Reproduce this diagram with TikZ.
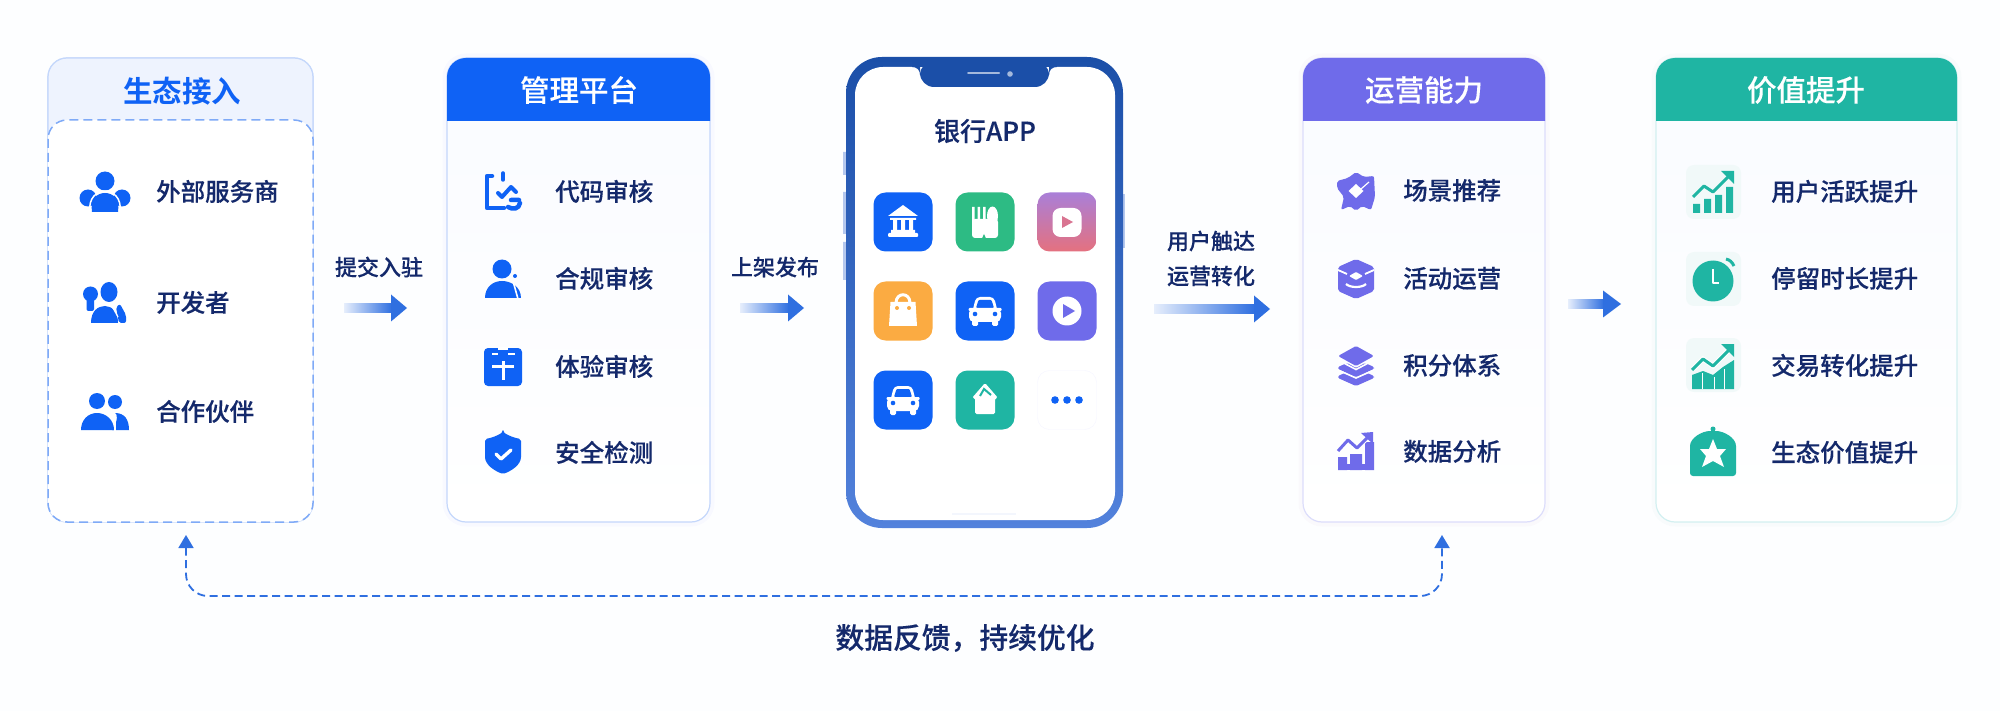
\documentclass[tikz,border=0pt]{standalone}
\usepackage{fontspec}
\setmainfont{Noto Sans CJK SC Medium}[FakeBold=0.2]
\newfontfamily\cjkb{Noto Sans CJK SC Bold}
\usetikzlibrary{arrows.meta,calc}
\definecolor{bgc}{HTML}{FDFEFF}
\definecolor{ink}{HTML}{14296B}
\definecolor{bluec}{HTML}{0F62F5}
\definecolor{arrowc}{HTML}{2F6FE0}
\definecolor{purc}{HTML}{6F6BEA}
\definecolor{tealc}{HTML}{1FB5A3}
\definecolor{greenc}{HTML}{2DBB84}
\definecolor{orangec}{HTML}{FBAB42}
\definecolor{ecohead}{HTML}{EEF3FE}
\definecolor{ecoline}{HTML}{C4D7FB}
\definecolor{dashc}{HTML}{7FAAF7}
\definecolor{purline}{HTML}{DCDDFB}
\definecolor{tealline}{HTML}{D3F0F1}
\definecolor{tilec}{HTML}{F1F9F9}
\definecolor{phonetop}{HTML}{1B4FA8}
\definecolor{phonemid}{HTML}{2F62C2}
\definecolor{phonebot}{HTML}{5382DC}
\definecolor{btnc}{HTML}{B5C8EE}
\definecolor{vidtop}{HTML}{A97FD8}
\definecolor{vidbot}{HTML}{E5717F}
\definecolor{cardtop}{HTML}{F9FBFF}
\definecolor{arrowstart}{HTML}{E6EEFC}
\definecolor{homebar}{HTML}{F3F6FD}
\tikzset{
  cardbox/.style={rounded corners=19pt,line width=1.2pt,inner sep=0pt,top color=cardtop,bottom color=white},
  itemtext/.style={anchor=west,text=ink,font=\fontsize{24.5}{24.5}\selectfont,inner sep=0pt,yshift=.6pt,xshift=-1pt},
  headtext/.style={text=white,font=\fontsize{29.5}{29.5}\selectfont,inner sep=0pt},
  steptext/.style={text=ink,font=\fontsize{22}{22}\selectfont,inner sep=0pt},
  feedback/.style={draw=arrowc,line width=1.8pt,dash pattern=on 8pt off 4.5pt,rounded corners=22pt,{Triangle[length=13pt,width=15pt,fill=arrowc]}-{Triangle[length=13pt,width=15pt,fill=arrowc]}},
  apptile/.style={rounded corners=12pt,minimum width=59pt,minimum height=59pt,inner sep=0pt}
}
\newcommand{\cardhead}[3]{\fill[#3,rounded corners=19pt] (#1,121) [sharp corners] -- (#1,110) [rounded corners=19pt] -- (#1,58) -- (#2,58) [sharp corners] -- (#2,110) -- (#2,121) -- cycle;}
\newcommand{\gradarrow}[6]{% names, x1, xbase, x2, y
  \coordinate (#1s) at (#2,#5); \coordinate (#1e) at (#4,#5);
  \shade[left color=arrowstart,right color=arrowc] (#2,#5-4.5) rectangle (#3+1,#5+4.5);
  \fill[#6] (#3,#5-13.5) -- (#1e) -- (#3,#5+13.5) -- cycle;}
\newcommand{\iconcar}[2]{\begin{scope}[shift={(#1,#2)}]
  \fill[white,rounded corners=4pt] (-13,2) -- (-9,-14) -- (9,-14) -- (13,2) -- cycle;
  \fill[bluec,rounded corners=1pt] (-9,-3) -- (-6.5,-11) -- (6.5,-11) -- (9,-3) -- cycle;
  \fill[white,rounded corners=5pt] (-16,-3) rectangle (16,11);
  \fill[white,rounded corners=1pt] (-16.5,-3) rectangle (-11,0) (11,-3) rectangle (16.5,0);
  \fill[white,rounded corners=1.5pt] (-13,8) rectangle (-7,15);
  \fill[white,rounded corners=1.5pt] (7,8) rectangle (13,15);
  \fill[bluec] (-10,3) circle (2.3) (10,3) circle (2.3);
\end{scope}}
\begin{document}
\begin{tikzpicture}[x=1pt,y=-1pt]
\useasboundingbox (0,0) rectangle (2000,711);
\fill[bgc] (0,0) rectangle (2000,711);

% ---------- cards
\foreach \xa/\xb/\cc in {447/710/blue,1303/1545/violet,1656/1957/teal}{
  \draw[\cc,opacity=.018,line width=9pt,rounded corners=19pt] (\xa,58) rectangle (\xb,522);}
\node[cardbox,draw=ecoline,minimum width=265pt,minimum height=464pt] (eco) at (180.5,290) {};
\node[cardbox,draw=ecoline,minimum width=263pt,minimum height=464pt] (mgmt) at (578.5,290) {};
\node[cardbox,draw=purline,minimum width=242pt,minimum height=464pt] (ops) at (1424,290) {};
\node[cardbox,draw=tealline,minimum width=301pt,minimum height=464pt] (val) at (1806.5,290) {};

\fill[ecohead,rounded corners=19pt] (48,58) rectangle (313,200);
\draw[ecoline,line width=1.2pt,rounded corners=19pt] (48,140) -- (48,58) -- (313,58) -- (313,140);
\fill[white,rounded corners=19pt] (48,120) rectangle (313,522);
\draw[dashc,line width=1.5pt,dash pattern=on 9pt off 5pt,rounded corners=19pt] (48,120) rectangle (313,522);
\node[headtext,text=bluec,font=\cjkb\fontsize{29.5}{29.5}\selectfont] (ecot) at (182,91) {生态接入};

\cardhead{447}{710}{bluec}
\node[headtext] (mgmtt) at (579,90) {管理平台};
\cardhead{1303}{1545}{purc}
\node[headtext] (opst) at (1424,90) {运营能力};
\cardhead{1656}{1957}{tealc}
\node[headtext] (valt) at (1806,90) {价值提升};

% ---------- ecosystem items
\node[itemtext] (e1) at (157,192) {外部服务商};
\node[itemtext] (e2) at (157,303) {开发者};
\node[itemtext] (e3) at (157,412) {合作伙伴};
\begin{scope}[shift={(105,192)}]
  \fill[bluec] (0,-11) circle (9.5);
  \fill[bluec] (-17,6) circle (8.5) (17,6) circle (8.5);
  \fill[bluec] (-23,6) rectangle (23,10);
  \draw[white,line width=1.5pt] (-15,20) .. controls (-17,6) and (-8,-1) .. (0,-1) .. controls (8,-1) and (17,6) .. (15,20);
  \fill[bluec] (-13,20) .. controls (-15,7) and (-8,1) .. (0,1) .. controls (8,1) and (15,7) .. (13,20) -- cycle;
  \fill[white] (-24,13) -- (-14.5,18) -- (-14.5,21) -- (-24,21) -- cycle (24,13) -- (14.5,18) -- (14.5,21) -- (24,21) -- cycle;
\end{scope}
\begin{scope}[shift={(105,303)}]
  \fill[bluec] (4,-11) ellipse (8.5 and 10);
  \fill[bluec] (-14.5,-9) circle (7.5);
  \fill[bluec,rounded corners=2pt] (-18.5,-10) rectangle (-11,8);
  \fill[bluec] (-14,20) .. controls (-14,8) and (-7,3) .. (0,3) .. controls (7,3) and (13,9) .. (13,20) -- cycle;
  \fill[bluec,rounded corners=2pt] (11,4) -- (15,1) -- (21,12) -- (21,20) -- (14,20) -- cycle;
  \draw[white,line width=1.2pt] (7,3) -- (13,14);
\end{scope}
\begin{scope}[shift={(105,412)}]
  \fill[bluec] (-8,-11) circle (8);
  \fill[bluec] (10,-10) circle (7);
  \fill[bluec] (7,18) .. controls (14,8) and (12,1) .. (10,1) .. controls (20,1) and (24,8) .. (24,18) -- cycle;
  \draw[white,line width=2pt] (6,20) .. controls (6,8) and (2,1) .. (-8,1);
  \fill[bluec] (-24,18) .. controls (-24,8) and (-17,1) .. (-8,1) .. controls (1,1) and (9,8) .. (9,18) -- cycle;
  \fill[white] (9,10) rectangle (10.5,19);
\end{scope}

% ---------- management items
\node[itemtext] (m1) at (556,192) {代码审核};
\node[itemtext] (m2) at (556,279) {合规审核};
\node[itemtext] (m3) at (556,367) {体验审核};
\node[itemtext] (m4) at (556,453) {安全检测};
\begin{scope}[shift={(503,191)}]
  \draw[bluec,line width=4.5pt,line cap=round,line join=round] (-11,-15) -- (-16,-15) -- (-16,17) -- (1,17);
  \draw[bluec,line width=3.5pt,line cap=round] (0,-18) -- (0,-11);
  \draw[bluec,line width=4pt,line cap=round,line join=round] (-5,2) -- (-1,6) -- (8,-4) -- (13,1);
  \draw[bluec,line width=4.5pt,line cap=round] (8,9) -- (16,9) (5,16) .. controls (10,19) and (16,18) .. (17,12);
\end{scope}
\begin{scope}[shift={(503,279)}]
  \fill[bluec] (-1,-10) circle (9.5);
  \fill[bluec] (-18,19) .. controls (-18,8) and (-10,2) .. (-1,2) .. controls (8,2) and (18,8) .. (18,19) -- cycle;
  \draw[white,line width=1.6pt] (10,2) -- (15,20);
  \fill[bluec] (12,-3) circle (2);
\end{scope}
\begin{scope}[shift={(503,367)}]
  \fill[bluec,rounded corners=4pt] (-19,-19) rectangle (19,19);
  \fill[white] (-5,-20) rectangle (5,-17);
  \draw[white,line width=3pt] (0,-6) -- (0,13) (-11,-1) -- (11,-1);
  \draw[white,line width=2.2pt] (-11,-13) -- (-5,-13) (5,-13) -- (12,-13);
\end{scope}
\begin{scope}[shift={(503,453)}]
  \fill[bluec,rounded corners=2pt] (0,-21) .. controls (6,-17) and (12,-15) .. (18,-14) -- (18,2) .. controls (18,12) and (8,18) .. (0,21) .. controls (-8,18) and (-18,12) .. (-18,2) -- (-18,-14) .. controls (-12,-15) and (-6,-17) .. (0,-21) -- cycle;
  \draw[white,line width=3.4pt,line cap=round,line join=round] (-7,1) -- (-2,6) -- (8,-3);
\end{scope}

% ---------- phone
\fill[btnc] (843,152) rectangle (846,175) (843,192) rectangle (846,234) (843,242) rectangle (846,280);
\fill[btnc] (1123,194) rectangle (1125,248);
\node[rounded corners=36pt,top color=phonetop,middle color=phonemid,bottom color=phonebot,minimum width=277pt,minimum height=471pt,inner sep=0pt] (phone) at (984.5,292.5) {};
\fill[white,rounded corners=28pt] (855,67) rectangle (1115,520);
\fill[phonetop] (912,61) rectangle (1057,67);
\fill[phonetop,rounded corners=14pt] (920,61) rectangle (1049,87);
\fill[phonetop] (912,67) -- (920,67) -- (920,75) .. controls (920,70) and (917,67) .. (912,67) -- cycle;
\fill[phonetop] (1057,67) -- (1049,67) -- (1049,75) .. controls (1049,70) and (1052,67) .. (1057,67) -- cycle;
\draw[white!60!phonetop,line width=2pt,line cap=round] (968,73) -- (999,73);
\fill[white!60!phonetop] (1010,74) circle (2.8);
\fill[homebar] (952,513) rectangle (1016,515);
\node[text=ink,font=\fontsize{26}{26}\selectfont,inner sep=0pt] (apptitle) at (985,131) {银行APP};

\node[apptile,fill=bluec] (a1) at (903,222) {};
\node[apptile,fill=greenc] (a2) at (985,222) {};
\node[apptile,top color=vidtop,bottom color=vidbot] (a3) at (1067,222) {};
\node[apptile,fill=orangec] (a4) at (903,311) {};
\node[apptile,fill=bluec] (a5) at (985,311) {};
\node[apptile,fill=purc] (a6) at (1067,311) {};
\node[apptile,fill=bluec] (a7) at (903,400) {};
\node[apptile,fill=tealc] (a8) at (985,400) {};
\node[apptile,fill=white,draw=blue!4] (a9) at (1067,400) {};
% bank
\begin{scope}[shift={(903,222)}]
  \fill[white] (0,-17) -- (15,-6) -- (-15,-6) -- cycle;
  \fill[white] (-10,-3) rectangle (-6,9) (-2,-3) rectangle (2,9) (6,-3) rectangle (10,9);
  \fill[white] (-13,-4) rectangle (13,-2) (-12,8) rectangle (12,11);
  \fill[white,rounded corners=1pt] (-15,11) rectangle (15,15);
\end{scope}
% fork and spoon
\begin{scope}[shift={(985,222)}]
  \fill[white] (-13,-15) rectangle (-10.5,0) (-7.5,-15) rectangle (-5,0) (-2,-15) rectangle (0.5,0);
  \fill[white] (7.5,-6) ellipse (5.5 and 9.5);
  \fill[white,rounded corners=3pt] (-13,-3) rectangle (13,16);
  \fill[greenc] (-3,16.5) -- (-1,12) -- (1,16.5) -- cycle;
\end{scope}
% video
\begin{scope}[shift={(1067,222)}]
  \fill[white,rounded corners=8pt] (-14.5,-14) rectangle (14.5,15);
  \fill[vidbot!80!vidtop] (-5,-6) -- (6,0) -- (-5,6) -- cycle;
\end{scope}
% bag
\begin{scope}[shift={(903,311)}]
  \draw[white,line width=3pt] (-7,-8) .. controls (-7,-19) and (7,-19) .. (7,-8);
  \fill[white] (-12.5,-9) -- (12.5,-9) -- (14,15) -- (-14,15) -- cycle;
  \fill[orangec] (-6,-3) circle (2) (6,-3) circle (2);
\end{scope}
\iconcar{985}{311}
% play
\begin{scope}[shift={(1067,311)}]
  \fill[white] (0,0) circle (14.5);
  \fill[purc] (-4,-7) -- (8,0) -- (-4,7) -- cycle;
\end{scope}
\iconcar{903}{400}
% house
\begin{scope}[shift={(985,400)}]
  \fill[white,rounded corners=1.5pt] (0,-17) -- (13,-2) -- (10,-2) -- (10,14) -- (-10,14) -- (-10,-2) -- (-13,-2) -- cycle;
  \draw[tealc,line width=2pt] (-5,-4) -- (-1,-11) -- (6,-5);
\end{scope}
\fill[bluec] (1055,400) circle (3.8) (1067,400) circle (3.8) (1079,400) circle (3.8);

% ---------- ops items
\node[itemtext] (o1) at (1404,191) {场景推荐};
\node[itemtext] (o2) at (1404,279) {活动运营};
\node[itemtext] (o3) at (1404,366) {积分体系};
\node[itemtext] (o4) at (1404,452) {数据分析};
\begin{scope}[shift={(1356,191)}]
  \fill[purc,rounded corners=2pt] (-19,-10) -- (-8,-13) -- (0,-19) -- (8,-14) -- (18,-15) -- (19,6) -- (15,19) -- (6,15) -- (0,20) -- (-6,15) -- (-15,19) -- (-12,6) -- (-19,-3) -- cycle;
  \fill[white] (0,-7) -- (7.5,0) -- (0,7) -- (-7.5,0) -- cycle;
  \draw[white,line width=1.2pt] (2,-1) -- (5,-2) -- (13,-9);
\end{scope}
\begin{scope}[shift={(1356,279)}]
  \fill[purc,rounded corners=2pt] (0,-20) -- (18,-12) -- (18,12) -- (0,20) -- (-18,12) -- (-18,-12) -- cycle;
  \fill[white,rounded corners=1pt] (0,-7) -- (7,-3) -- (0,1) -- (-7,-3) -- cycle;
  \draw[white,line width=2.2pt] (-10,5) .. controls (-6,9) and (6,9) .. (10,5);
  \draw[white,line width=1.8pt] (-18,-9) -- (-9,-5) (18,-9) -- (9,-5);
\end{scope}
\begin{scope}[shift={(1356,366)}]
  \fill[purc,rounded corners=1.5pt] (-18,10) -- (-9,6) -- (0,11) -- (9,6) -- (18,10) -- (18,12) -- (0,20) -- (-18,12) -- cycle;
  \fill[purc,rounded corners=1.5pt] (-18,1) -- (-9,-3) -- (0,2) -- (9,-3) -- (18,1) -- (18,3) -- (0,11) -- (-18,3) -- cycle;
  \draw[white,line width=1.6pt] (-18,4) -- (0,12) -- (18,4);
  \fill[purc,rounded corners=1.5pt] (0,-20) -- (18,-10) -- (0,0) -- (-18,-10) -- cycle;
  \draw[white,line width=1.6pt] (-18,-6) -- (0,3.5) -- (18,-6);
\end{scope}
\begin{scope}[shift={(1356,452)}]
  \fill[purc] (-18,5) rectangle (-9,18) (-6,2) rectangle (6,18) (9,-10) rectangle (18,18);
  \fill[purc] (-18,12) rectangle (18,18);
  \draw[white,line width=4.5pt] (-18,0) -- (-8,-11) -- (1,-3) -- (14,-17);
  \draw[purc,line width=3pt,line join=round] (-18,-1) -- (-8,-12) -- (1,-4) -- (13,-16);
  \fill[purc] (5,-19) -- (17,-20) -- (17,-8) -- cycle;
\end{scope}

% ---------- value items
\node[itemtext] (v1) at (1772,192) {用户活跃提升};
\node[itemtext] (v2) at (1772,279) {停留时长提升};
\node[itemtext] (v3) at (1772,366) {交易转化提升};
\node[itemtext] (v4) at (1772,453) {生态价值提升};
\foreach \yy in {192,279,365}{\fill[tilec,rounded corners=8pt] (1686,\yy-27) rectangle (1741,\yy+27);}
\begin{scope}[shift={(1713,192)}]
  \fill[tealc] (-20,12) rectangle (-13,21) (-9,7) rectangle (-2,21) (2,3) rectangle (9,21) (13,-5) rectangle (20,21);
  \draw[tealc,line width=3pt,line join=round] (-20,5) -- (-9,-6) -- (0,0) -- (17,-17);
  \fill[tealc] (8,-21) -- (21,-21) -- (21,-8) -- cycle;
\end{scope}
\begin{scope}[shift={(1713,279)}]
  \fill[tealc] (0,2) circle (20.5);
  \draw[white,line width=2.5pt,line join=round] (0,-10) -- (0,4) -- (6,4);
  \draw[tealc,line width=3pt] (13,-20) .. controls (17,-19) and (19,-17) .. (21,-13);
\end{scope}
\begin{scope}[shift={(1713,365)}]
  \fill[tealc] (-21,10) -- (-10,6) -- (0,10) -- (10,2) -- (21,-5) -- (21,24) -- (-21,24) -- cycle;
  \draw[white,line width=1pt] (-11,8) -- (-11,24) (1,12) -- (1,24) (11,4) -- (11,24);
  \draw[white,line width=5pt] (-20,4) -- (-10,-6) -- (0,1) -- (17,-16);
  \draw[tealc,line width=3pt,line join=round] (-21,5) -- (-10,-6) -- (0,1) -- (17,-16);
  \fill[tealc] (8,-21) -- (21,-21) -- (21,-8) -- cycle;
\end{scope}
\begin{scope}[shift={(1713,452)}]
  \fill[tealc,rounded corners=3pt] (-23,24) -- (-23,-3) .. controls (-23,-14) and (-11,-21) .. (0,-21) .. controls (11,-21) and (23,-14) .. (23,-3) -- (23,24) -- cycle;
  \fill[tealc] (0,-23) circle (2.5);
  \fill[white] (0,-13) -- (4,-3) -- (13,-3) -- (7,4) -- (11,15) -- (0,9) -- (-11,15) -- (-7,4) -- (-13,-3) -- (-4,-3) -- cycle;
\end{scope}

% ---------- flow arrows and labels
\node[steptext] (l1) at (379,267) {提交入驻};
\gradarrow{f1}{344}{391}{407}{308}{arrowc}
\node[steptext] (l2) at (775,267) {上架发布};
\gradarrow{f2}{740}{788}{804}{308}{arrowc}
\node[steptext] (l3) at (1211,241) {用户触达};
\node[steptext] (l4) at (1211,276) {运营转化};
\gradarrow{f3}{1154}{1254}{1270}{309}{arrowc}
\gradarrow{f4}{1568}{1603}{1621}{304}{arrowc}

% ---------- feedback
\coordinate (fbL) at (186,535);
\coordinate (fbLc) at (186,596);
\coordinate (fbRc) at (1442,596);
\coordinate (fbR) at (1442,535);
\draw[feedback] (fbL) -- (fbLc) -- (fbRc) -- (fbR);
\node[text=ink,font=\fontsize{28.8}{28.8}\selectfont,inner sep=0pt] (fbt) at (965,638) {数据反馈，持续优化};
\end{tikzpicture}
\end{document}
